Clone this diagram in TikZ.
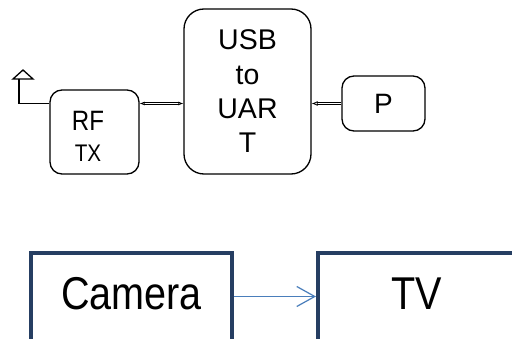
\documentclass[tikz,border=0pt]{standalone}
\usepackage{fontspec}
\setmainfont{Liberation Sans}
\newfontfamily\narrowfont[FakeStretch=0.86]{Liberation Sans}
\usetikzlibrary{arrows.meta}
\definecolor{navy}{RGB}{38,62,98}
\definecolor{flowblue}{RGB}{74,126,187}

\begin{document}
\begin{tikzpicture}[x=1pt,y=-1pt,>=latex,
    block/.style={draw,line width=1.3pt,rounded corners=12pt},
    link/.style={double,double distance=1.1pt,line width=0.8pt},
    bigbox/.style={draw=navy,line width=4pt,anchor=north},
    bigtext/.style={font=\narrowfont\fontsize{46}{50}\selectfont}]
        \useasboundingbox (0,0) rectangle (512,339);
        \clip (0,0) rectangle (512,339);

        % top blocks
        \node[block,minimum width=127,minimum height=165,rounded corners=20pt,align=center,
            font=\fontsize{28.5}{34.3}\selectfont] (usb) at (247.5,91.5) {USB\\to\\UAR\\T};
        \node[block,minimum width=89,minimum height=84] (rf) at (94.5,132) {};
        \node[align=center,font=\narrowfont\fontsize{28}{31}\selectfont] (rflabel) at (88,136)
            {RF\\{\fontsize{24}{31}\selectfont TX}};
        \node[block,minimum width=83,minimum height=55,font=\fontsize{28}{30}\selectfont] (p) at (383.5,103.5) {P};

        %links
        \draw[link,{Latex[open,length=5pt,width=4pt]}-{Latex[open,length=5pt,width=4pt]}] (rf.east |- p.west) -- (usb.west |- p.west);
        \draw[link,-{Latex[open,length=6pt,width=5pt]}] (p.west) -- (usb.east |- p.west);

        %antenna
        \coordinate (ant) at (19,79);
        \draw[line width=1.3pt] (rf.west |- p.west) -| (ant);
        \draw[line width=1.3pt] (13,79) -- (23,70) -- (33,79) -- cycle;

        % bottom blocks
        \node[bigbox,minimum width=201,minimum height=170] (camera) at (131.5,251) {};
        \node[bigbox,minimum width=300,minimum height=170] (tv) at (468,251) {};
        \node[bigtext] (camtext) at (131.5,293.5) {Camera};
        \node[bigtext] (tvtext) at (417,293.5) {TV};
        \draw[flowblue,line width=1.2pt,-{Straight Barb[length=18pt,width=20pt]}]
            ([yshift=-3pt]camtext.center -| camera.east) -- ([yshift=-3pt]camtext.center -| tv.west);
\end{tikzpicture}
\end{document}
